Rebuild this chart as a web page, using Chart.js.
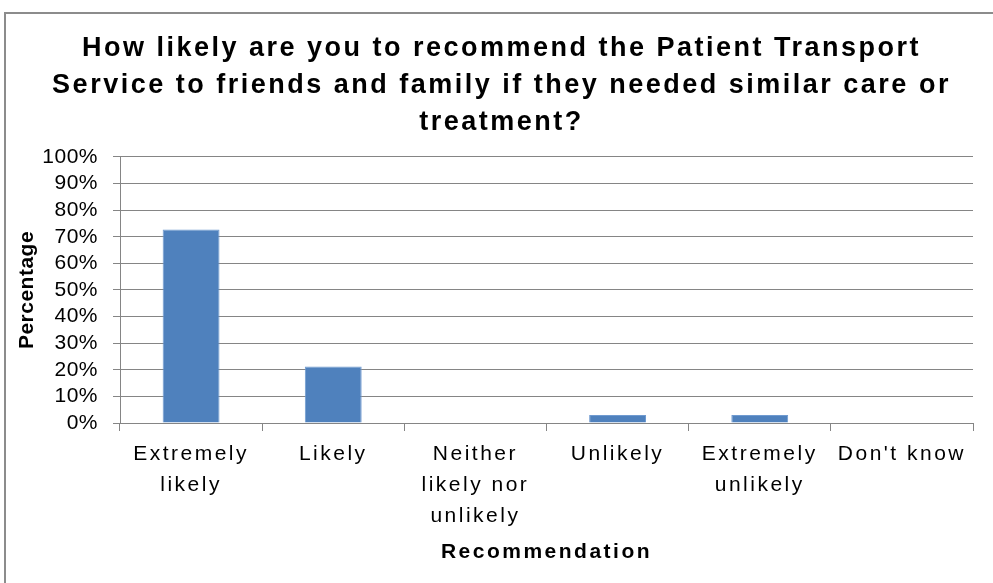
<!DOCTYPE html>
<html>
<head>
<meta charset="utf-8">
<script src="https://cdn.jsdelivr.net/npm/chart.js@4"></script>
<style>
  html, body { margin: 0; padding: 0; background: #fff; overflow: hidden; }
  #wrap { position: relative; width: 993px; height: 583px; }
  #frame {
    position: absolute; left: 4px; top: 12px; width: 1200px; height: 800px;
    border-left: 2px solid #8c8c8c; border-top: 2px solid #8c8c8c;
  }
  canvas { position: absolute; left: 0; top: 0; }
</style>
</head>
<body>
<div id="wrap">
  <div id="frame"></div>
  <canvas id="chart" width="993" height="583"></canvas>
</div>
<script>
// chart data
const categories = [
  ['Extremely', 'likely'],
  ['Likely'],
  ['Neither', 'likely nor', 'unlikely'],
  ['Unlikely'],
  ['Extremely', 'unlikely'],
  ["Don't know"]
];
const percentages = [72.7, 21.2, 0, 3.0, 3.0, 0];
const titleLines = [
  'How likely are you to recommend the Patient Transport',
  'Service to friends and family if they needed similar care or',
  'treatment?'
];

const FONT = "'Liberation Sans', Arial, sans-serif";
const GRID = '#858585';

// the original text is rendered a little wider, so space the letters out
// (the y axis text is tighter than the rest)
function tight(scale, name) {
  const fn = Object.getPrototypeOf(scale)[name];
  scale[name] = function() {
    const prev = this.ctx.letterSpacing;
    this.ctx.letterSpacing = '0.5px';
    fn.apply(this, arguments);
    this.ctx.letterSpacing = prev;
  };
}

const letterSpacing = {
  id: 'letterSpacing',
  beforeUpdate(chart) { chart.ctx.letterSpacing = '2.5px'; },
  beforeDraw(chart) {
    chart.ctx.letterSpacing = '2.5px';
    tight(chart.scales.y, 'drawLabels');
    tight(chart.scales.y, 'drawTitle');
  }
};

new Chart(document.getElementById('chart'), {
  type: 'bar',
  data: {
    labels: categories,
    datasets: [{
      label: 'Percentage',
      data: percentages,
      backgroundColor: '#4F81BD',
      borderColor: '#6f9ad0',
      borderWidth: 1,
      barPercentage: 0.4,
      categoryPercentage: 1
    }]
  },
  options: {
    responsive: false,
    animation: false,
    layout: { padding: { left: 30, right: 20, top: 0, bottom: 0 } },
    plugins: {
      legend: { display: false },
      tooltip: { enabled: false },
      title: {
        display: true,
        text: titleLines,
        color: '#000',
        font: { family: FONT, size: 27, weight: 'bold', lineHeight: 1.37 },
        padding: { top: 30, bottom: 16 }
      }
    },
    scales: {
      x: {
        grid: {
          display: true,
          drawOnChartArea: false,
          drawTicks: true,
          tickLength: 8,
          color: GRID,
          offset: true
        },
        border: { display: true, color: GRID, width: 1 },
        ticks: {
          color: '#000',
          padding: 8,
          maxRotation: 0,
          autoSkip: false,
          font: { family: FONT, size: 21, lineHeight: 1.48 }
        },
        title: {
          display: true,
          text: 'Recommendation',
          color: '#000',
          font: { family: FONT, size: 21, weight: 'bold', lineHeight: 1.2 },
          padding: { top: 0, bottom: 18 }
        },
        afterFit: function(scale) { scale.height = 160; }
      },
      y: {
        min: 0,
        max: 100,
        grid: {
          color: GRID,
          drawTicks: true,
          tickLength: 7
        },
        border: { display: true, color: GRID, width: 1 },
        ticks: {
          stepSize: 10,
          autoSkip: false,
          color: '#000',
          padding: 15,
          font: { family: FONT, size: 21 },
          callback: function(value) { return value + '%'; }
        },
        title: {
          display: true,
          text: 'Percentage',
          color: '#000',
          font: { family: FONT, size: 21, weight: 'bold', lineHeight: 1.2 },
          padding: { top: -15, bottom: 0 }
        },
        afterFit: function(scale) { scale.width = 90; }
      }
    }
  },
  plugins: [letterSpacing]
});
</script>
</body>
</html>
